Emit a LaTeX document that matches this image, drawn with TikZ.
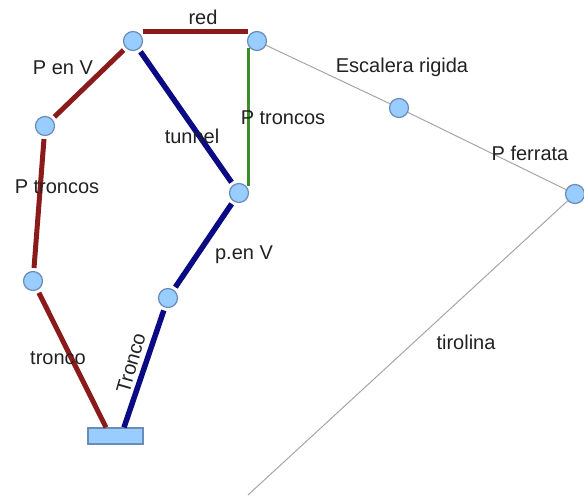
\documentclass[tikz,border=0pt]{standalone}
\usepackage{fontspec}
\setmainfont{Liberation Sans}
\definecolor{dred}{HTML}{8B1A1A}
\definecolor{dblue}{HTML}{0A0A85}
\definecolor{dgreen}{HTML}{3C8C2C}
\definecolor{nfill}{HTML}{99CCFF}
\definecolor{ndraw}{HTML}{6A8DB8}
\definecolor{txt}{HTML}{222222}
\begin{document}
\begin{tikzpicture}[x=1pt,y=-1pt,
  pt/.style={circle,fill=nfill,draw=ndraw,line width=1.2pt,minimum size=19pt,inner sep=0pt},
  basebox/.style={rectangle,fill=nfill,draw=ndraw,line width=1.2pt,minimum width=55pt,minimum height=16pt,inner sep=0pt},
  redl/.style={dred,line width=5pt,shorten <=3pt,shorten >=3pt},
  bluel/.style={dblue,line width=5.5pt,shorten <=3pt,shorten >=3pt},
  greenl/.style={dgreen,line width=3pt},
  grayl/.style={gray!70,line width=1pt},
  lbl/.style={text=txt,font=\fontsize{20}{24}\selectfont,inner sep=0pt}]
\useasboundingbox (0,0) rectangle (584,503);
\fill[white] (0,0) rectangle (584,503);
% nodes
\node[pt] (A) at (133,41) {};
\node[pt] (B) at (257,41) {};
\node[pt] (C) at (45,126) {};
\node[pt] (D) at (239,193) {};
\node[pt] (E) at (399,108) {};
\node[pt] (F) at (575,194) {};
\node[pt] (G) at (33,281) {};
\node[pt] (H) at (168,298) {};
\node[basebox] (base) at (115.5,436) {};
\coordinate (Z) at (248,495);
% connectors
\draw[dred,line width=5pt] ([xshift=10pt,yshift=-0.5pt]A.north) -- ([xshift=-9pt,yshift=-0.5pt]B.north);
\draw[redl] (A) -- (C);
\draw[redl] (C) -- (G);
\draw[redl,shorten >=0pt] (G) -- ([xshift=-9.5pt]base.north);
\draw[bluel] (A) -- (D);
\draw[greenl] ([xshift=-9pt,yshift=3pt]B.south) -- ([xshift=9pt,yshift=-3pt]D.north);
\draw[bluel] (D) -- (H);
\draw[bluel,shorten >=0pt] (H) -- ([xshift=8.5pt]base.north);
\draw[grayl] (B) -- (E);
\draw[grayl] (E) -- (F);
\draw[grayl] (F) -- (Z);
% labels
\node[lbl] (lred) at (203,17) {red};
\node[lbl] (lpenv) at (63,68) {P en V};
\node[lbl] (ltunnel) at (192,136) {tunnel};
\node[lbl] (lptr1) at (283,118) {P troncos};
\node[lbl] (lptr2) at (57,187) {P troncos};
\node[lbl] (lesc) at (402,67) {Escalera rigida};
\node[lbl] (lfer) at (530,153) {P ferrata};
\node[lbl] (lpenv2) at (244,255) {p.en V};
\node[lbl] (ltronco) at (58,358) {tronco};
\node[lbl,rotate=74] (lTronco) at (131,363) {Tronco};
\node[lbl] (ltir) at (466,342) {tirolina};
\end{tikzpicture}
\end{document}
